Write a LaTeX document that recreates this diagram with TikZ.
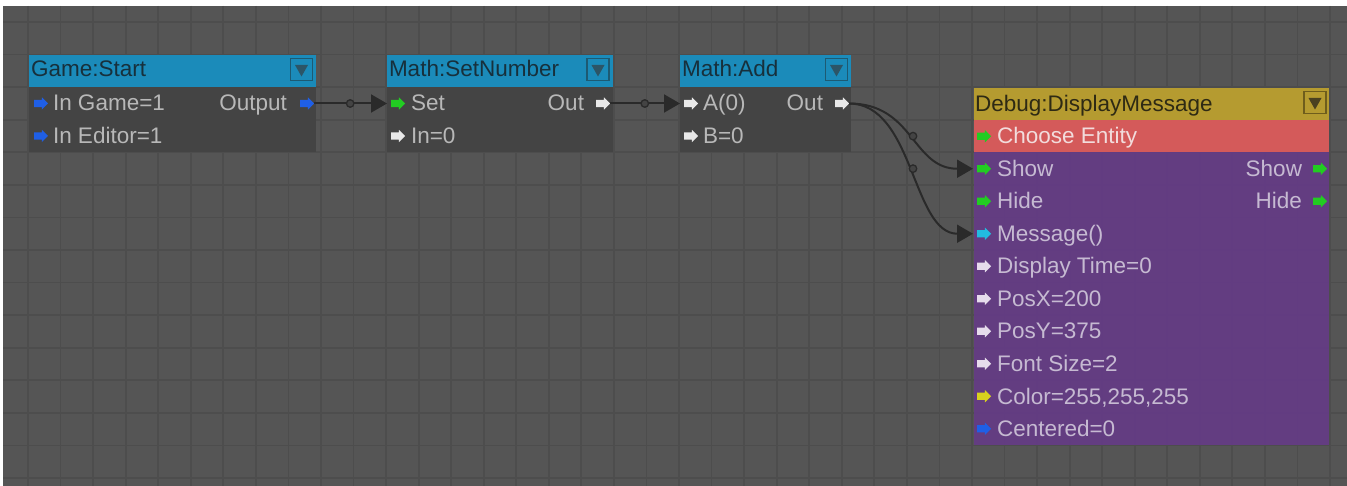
\documentclass[tikz,border=0pt]{standalone}
\usepackage{fontspec}
\setmainfont{Liberation Sans}
\usetikzlibrary{arrows.meta,shapes.arrows}

\definecolor{canvas}{HTML}{555555}
\definecolor{gridln}{HTML}{4D4D4D}
\definecolor{hdrblue}{HTML}{1B8BBA}
\definecolor{hdrblueedge}{HTML}{1D5A73}
\definecolor{hdrbluetri}{HTML}{2C5567}
\definecolor{hdrgold}{HTML}{B59B30}
\definecolor{hdrgoldedge}{HTML}{6E5D1C}
\definecolor{hdrgoldtri}{HTML}{4A4120}
\definecolor{rowred}{HTML}{D45A5A}
\definecolor{bodypurple}{HTML}{643C84}
\definecolor{bodygray}{HTML}{444444}
\definecolor{txtgray}{HTML}{B8B8B8}
\definecolor{txtlav}{HTML}{C6BAD2}
\definecolor{txtpink}{HTML}{F2DCDC}
\definecolor{txtdark}{HTML}{17303C}
\definecolor{txtolive}{HTML}{2E2A14}
\definecolor{pinblue}{HTML}{1F5FE6}
\definecolor{pingreen}{HTML}{22CC22}
\definecolor{pinwhite}{HTML}{E8E8E8}
\definecolor{pincyan}{HTML}{22BBE0}
\definecolor{pinlav}{HTML}{E6DCEC}
\definecolor{pinyellow}{HTML}{D8D21E}
\definecolor{wirecol}{HTML}{2A2A2A}

\tikzset{
  box/.style={inner sep=0pt, outer sep=0pt, anchor=north west, draw=none},
  bodybox/.style={box, fill opacity=0.95},
  lbl/.style={inner sep=0pt, outer sep=0pt, anchor=base west,
              font=\fontsize{22.5}{27}\selectfont, text=txtgray},
  rlbl/.style={lbl, anchor=base east},
  pinarrow/.style={single arrow, fill=#1, draw=none, inner sep=3.5pt,
              single arrow head extend=2.5pt, minimum height=14pt,
              anchor=tail, outer sep=0pt},
  wireln/.style={draw=wirecol, line width=2pt,
              -{Triangle[length=16pt,width=18pt]}, shorten >=4pt},
  joint/.style={circle, draw=wirecol, fill=canvas!80!black, line width=1.3pt,
              minimum size=7.5pt, inner sep=0pt},
  ddbox/.style={inner sep=0pt, outer sep=0pt, minimum size=22pt, line width=1.5pt},
}

% dropdown button in a node header: name, centre, edge colour, triangle colour
\newcommand\ddicon[4]{%
  \node[ddbox, draw=#3] (#1) at (#2) {};
  \fill[#4] ([shift={(-6.5,-4.5)}]#1.center) -- ([shift={(6.5,-4.5)}]#1.center)
            -- ([shift={(0,7)}]#1.center) -- cycle;
}

\begin{document}
\begin{tikzpicture}[x=1pt, y=-1pt]
\useasboundingbox (0,0) rectangle (1347,486);
\fill[white] (0,0) rectangle (1347,486);
\fill[canvas] (3,6) rectangle (1347,486);

% background grid
\foreach \i in {0,...,40}
  \draw[gridln, line width=1.8pt] ({28+32.55*\i},6) -- ({28+32.55*\i},486);
\foreach \j in {0,...,14}
  \draw[gridln, line width=1.8pt] (3,{22+32.57*\j}) -- (1347,{22+32.57*\j});

% ---- Game:Start ----
\node[box, fill=hdrblue, minimum width=287pt, minimum height=32pt] (gs-h) at (29,55) {};
\node[bodybox, fill=bodygray, minimum width=287pt, minimum height=65pt] (gs-b) at (29,87) {};
\node[lbl, text=txtdark] (gs-t) at (31,77) {Game:Start};
\ddicon{gs-dd}{301.5,69.5}{hdrblueedge}{hdrbluetri}
\node[pinarrow=pinblue] (gs-in1) at (34,103.5) {};
\node[lbl] (gs-l1) at (53,111) {In Game=1};
\node[pinarrow=pinblue] (gs-in2) at (34,136) {};
\node[lbl] (gs-l2) at (53,143.5) {In Editor=1};
\node[pinarrow=pinblue] (gs-out) at (300,103.5) {};
\node[rlbl] (gs-lo) at (287,111) {Output};

% ---- Math:SetNumber ----
\node[box, fill=hdrblue, minimum width=226pt, minimum height=32pt] (sn-h) at (387,55) {};
\node[bodybox, fill=bodygray, minimum width=226pt, minimum height=65pt] (sn-b) at (387,87) {};
\node[lbl, text=txtdark] (sn-t) at (389,77) {Math:SetNumber};
\ddicon{sn-dd}{598,69.5}{hdrblueedge}{hdrbluetri}
\node[pinarrow=pingreen] (sn-set) at (391,103.5) {};
\node[lbl] (sn-l1) at (411,111) {Set};
\node[pinarrow=pinwhite] (sn-in) at (391,136) {};
\node[lbl] (sn-l2) at (411,143.5) {In=0};
\node[pinarrow=pinwhite] (sn-out) at (596,103.5) {};
\node[rlbl] (sn-lo) at (584,111) {Out};

% ---- Math:Add ----
\node[box, fill=hdrblue, minimum width=171pt, minimum height=32pt] (ma-h) at (680,55) {};
\node[bodybox, fill=bodygray, minimum width=171pt, minimum height=65pt] (ma-b) at (680,87) {};
\node[lbl, text=txtdark] (ma-t) at (682,77) {Math:Add};
\ddicon{ma-dd}{836.5,69.5}{hdrblueedge}{hdrbluetri}
\node[pinarrow=pinwhite] (ma-a) at (684,103.5) {};
\node[lbl] (ma-l1) at (703,111) {A(0)};
\node[pinarrow=pinwhite] (ma-bin) at (684,136) {};
\node[lbl] (ma-l2) at (703,143.5) {B=0};
\node[pinarrow=pinwhite] (ma-out) at (835,103.5) {};
\node[rlbl] (ma-lo) at (823,111) {Out};

% ---- Debug:DisplayMessage ----
\node[box, fill=hdrgold, minimum width=355pt, minimum height=32pt] (dm-h) at (974,88) {};
\node[box, fill=rowred, minimum width=355pt, minimum height=32.5pt] (dm-sel) at (974,120) {};
\node[bodybox, fill=bodypurple, minimum width=355pt, minimum height=292.5pt] (dm-b) at (974,152.5) {};
\node[lbl, text=txtolive] (dm-t) at (975,111.5) {Debug:DisplayMessage};
\ddicon{dm-dd}{1315,102.5}{hdrgoldedge}{hdrgoldtri}

\node[pinarrow=pingreen] (dm-p0) at (977,136.25) {};
\node[lbl, text=txtpink] (dm-l0) at (997,144) {Choose Entity};
\node[pinarrow=pingreen] (dm-show) at (977,168.75) {};
\node[lbl, text=txtlav] (dm-l1) at (997,176.5) {Show};
\node[pinarrow=pingreen] (dm-hide) at (977,201.25) {};
\node[lbl, text=txtlav] (dm-l2) at (997,209) {Hide};
\node[pinarrow=pincyan] (dm-msg) at (977,233.75) {};
\node[lbl, text=txtlav] (dm-l3) at (997,241.5) {Message()};
\node[pinarrow=pinlav] (dm-p4) at (977,266.25) {};
\node[lbl, text=txtlav] (dm-l4) at (997,274) {Display Time=0};
\node[pinarrow=pinlav] (dm-p5) at (977,298.75) {};
\node[lbl, text=txtlav] (dm-l5) at (997,306.5) {PosX=200};
\node[pinarrow=pinlav] (dm-p6) at (977,331.25) {};
\node[lbl, text=txtlav] (dm-l6) at (997,339) {PosY=375};
\node[pinarrow=pinlav] (dm-p7) at (977,363.75) {};
\node[lbl, text=txtlav] (dm-l7) at (997,371.5) {Font Size=2};
\node[pinarrow=pinyellow] (dm-p8) at (977,396.25) {};
\node[lbl, text=txtlav] (dm-l8) at (997,404) {Color=255,255,255};
\node[pinarrow=pinblue] (dm-p9) at (977,428.75) {};
\node[lbl, text=txtlav] (dm-l9) at (997,436.5) {Centered=0};

\node[pinarrow=pingreen] (dm-oshow) at (1313,168.75) {};
\node[rlbl, text=txtlav] (dm-lo1) at (1302,176.5) {Show};
\node[pinarrow=pingreen] (dm-ohide) at (1313,201.25) {};
\node[rlbl, text=txtlav] (dm-lo2) at (1302,209) {Hide};

% ---- connections ----
\draw[wireln] (gs-out.tip) -- (sn-set.tail) node[joint, pos=0.47] (j1) {};
\draw[wireln] (sn-out.tip) -- (ma-a.tail) node[joint, pos=0.47] (j2) {};
\draw[wireln] (ma-out.tip) .. controls +(65,0) and +(-65,0) .. (dm-show.tail)
  node[joint, pos=0.5] (j3) {};
\draw[wireln] (ma-out.tip) .. controls +(65,0) and +(-65,0) .. (dm-msg.tail)
  node[joint, pos=0.5] (j4) {};
\end{tikzpicture}
\end{document}
